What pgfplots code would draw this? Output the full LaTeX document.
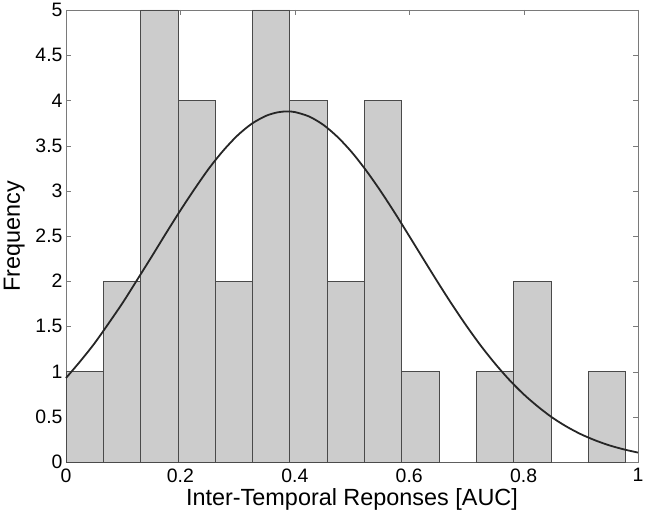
\documentclass[border=0pt]{standalone}
\usepackage{fontspec}
\setmainfont{Liberation Sans}
\usepackage{pgfplots}
\pgfplotsset{compat=1.18}
\definecolor{barfill}{HTML}{CCCCCC}
\definecolor{baredge}{HTML}{4A4A4A}
\definecolor{axisgray}{HTML}{7A7A7A}
\definecolor{curve}{HTML}{262626}
\begin{document}
\begin{tikzpicture}
\path[use as bounding box] (0,0) rectangle (645bp,518bp);
\begin{axis}[
    at={(66bp,56bp)}, anchor=south west,
    scale only axis,
    width=572bp, height=452bp,
    xmin=0, xmax=1, ymin=0, ymax=5,
    xtick={0,0.2,...,1.0},
    ytick={0,0.5,...,5},
    xlabel={Inter-Temporal Reponses [AUC]},
    ylabel={Frequency},
    tick label style={font=\fontsize{19.5}{22}\selectfont},
    xticklabel style={yshift=-3bp},
    label style={font=\fontsize{23.5}{26}\selectfont},
    /pgf/number format/assume math mode=true,
    axis line style={axisgray},
    major tick style={axisgray},
    major tick length=5bp,
    xlabel style={yshift=1bp},
    ylabel style={yshift=4bp},
    clip=false,
]
\addplot[ybar interval, fill=barfill, draw=baredge, line width=0.6pt] coordinates {
    (0.0000,1) (0.0652,2) (0.1304,5) (0.1956,4) (0.2608,2)
    (0.3260,5) (0.3912,4) (0.4564,2) (0.5216,4) (0.5868,1)
    (0.6520,0) (0.7172,1) (0.7824,2) (0.8476,0) (0.9128,1)
    (0.9780,1)
};
\addplot[curve, line width=1.8pt, smooth] coordinates {
    (0.000,0.929) (0.025,1.115) (0.050,1.314) (0.075,1.538) (0.100,1.770)
    (0.125,2.021) (0.150,2.274) (0.175,2.532) (0.200,2.783) (0.225,3.022)
    (0.250,3.248) (0.275,3.445) (0.300,3.613) (0.325,3.743) (0.350,3.830)
    (0.370,3.868) (0.386,3.878) (0.400,3.871) (0.425,3.822) (0.450,3.729)
    (0.475,3.594) (0.500,3.424) (0.525,3.222) (0.550,2.997) (0.575,2.754)
    (0.600,2.500) (0.625,2.243) (0.650,1.988) (0.675,1.741) (0.700,1.507)
    (0.725,1.288) (0.750,1.089) (0.775,0.909) (0.800,0.750) (0.825,0.613)
    (0.850,0.492) (0.875,0.392) (0.900,0.308) (0.925,0.240) (0.950,0.184)
    (0.975,0.140) (1.000,0.104)
};
\end{axis}
\end{tikzpicture}
\end{document}
